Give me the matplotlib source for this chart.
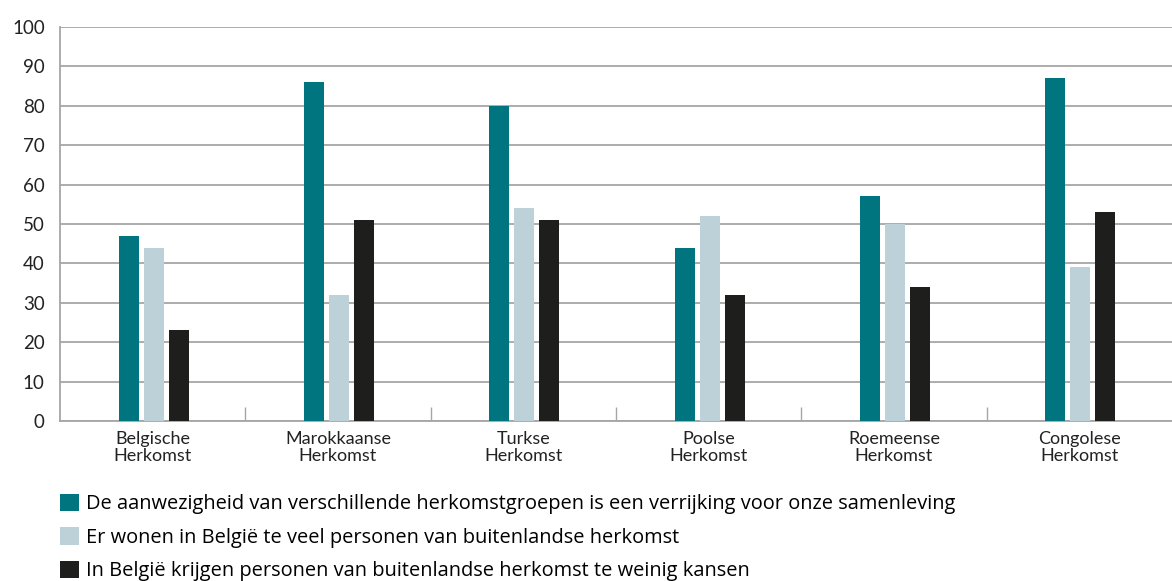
import matplotlib
import matplotlib.pyplot as plt
import numpy as np
from matplotlib.patches import Patch

matplotlib.use("Agg")

categories = ["Belgische\nHerkomst", "Marokkaanse\nHerkomst", "Turkse\nHerkomst",
              "Poolse\nHerkomst", "Roemeense\nHerkomst", "Congolese\nHerkomst"]
verrijking = [47, 86, 80, 44, 57, 87]
te_veel = [44, 32, 54, 52, 50, 39]
weinig_kansen = [23, 51, 51, 32, 34, 53]
series_labels = [
    "De aanwezigheid van verschillende herkomstgroepen is een verrijking voor onze samenleving",
    "Er wonen in België te veel personen van buitenlandse herkomst",
    "In België krijgen personen van buitenlandse herkomst te weinig kansen",
]
colors = ["#00747F", "#BCD1D8", "#1E1E1C"]

fig = plt.figure(figsize=(11.72, 5.81), dpi=100)
ax = fig.add_axes([60 / 1172, 1 - 421 / 581, 1 - 60 / 1172, (421 - 27) / 581])

x = np.arange(len(categories))
width = 0.108
step = 0.135
for i, (vals, c) in enumerate(zip([verrijking, te_veel, weinig_kansen], colors)):
    ax.bar(x + (i - 1) * step + 0.005, vals, width=width, color=c, zorder=3)

ax.set_xlim(-0.5, len(categories) - 0.5)
ax.set_ylim(0, 100)
ax.set_yticks(range(0, 101, 10))
ax.yaxis.grid(True, color="#A6A6A6", linewidth=1.3, zorder=0)
ax.tick_params(axis="y", length=0, labelsize=13.5, pad=11, labelcolor="#222222")

ax.set_xticks(x)
ax.set_xticklabels(categories, fontsize=13, color="#222222", linespacing=1.12)
ax.set_xticks(np.arange(0.5, len(categories) - 0.5, 1), minor=True)
ax.tick_params(axis="x", which="major", length=0, pad=7)
ax.tick_params(axis="x", which="minor", direction="in", length=10, color="#A6A6A6", width=1)

for side in ["top", "right"]:
    ax.spines[side].set_visible(False)
ax.spines["left"].set_color("#A6A6A6")
ax.spines["bottom"].set_color("#A6A6A6")
ax.spines["left"].set_linewidth(1.3)
ax.spines["bottom"].set_linewidth(1.3)

for lab in ax.get_xticklabels() + ax.get_yticklabels():
    lab.set_family("Lato")

handles = [Patch(facecolor=c, edgecolor="none") for c in colors]
fig.legend(handles, series_labels, loc="upper left", bbox_to_anchor=(60 / 1172, 1 - 494 / 581),
           frameon=False, handlelength=0.95, handleheight=0.95, handletextpad=0.35,
           labelspacing=0.64, borderpad=0, borderaxespad=0,
           prop={"family": "Open Sans", "size": 14.4})

fig.savefig("out.png", dpi=100)
